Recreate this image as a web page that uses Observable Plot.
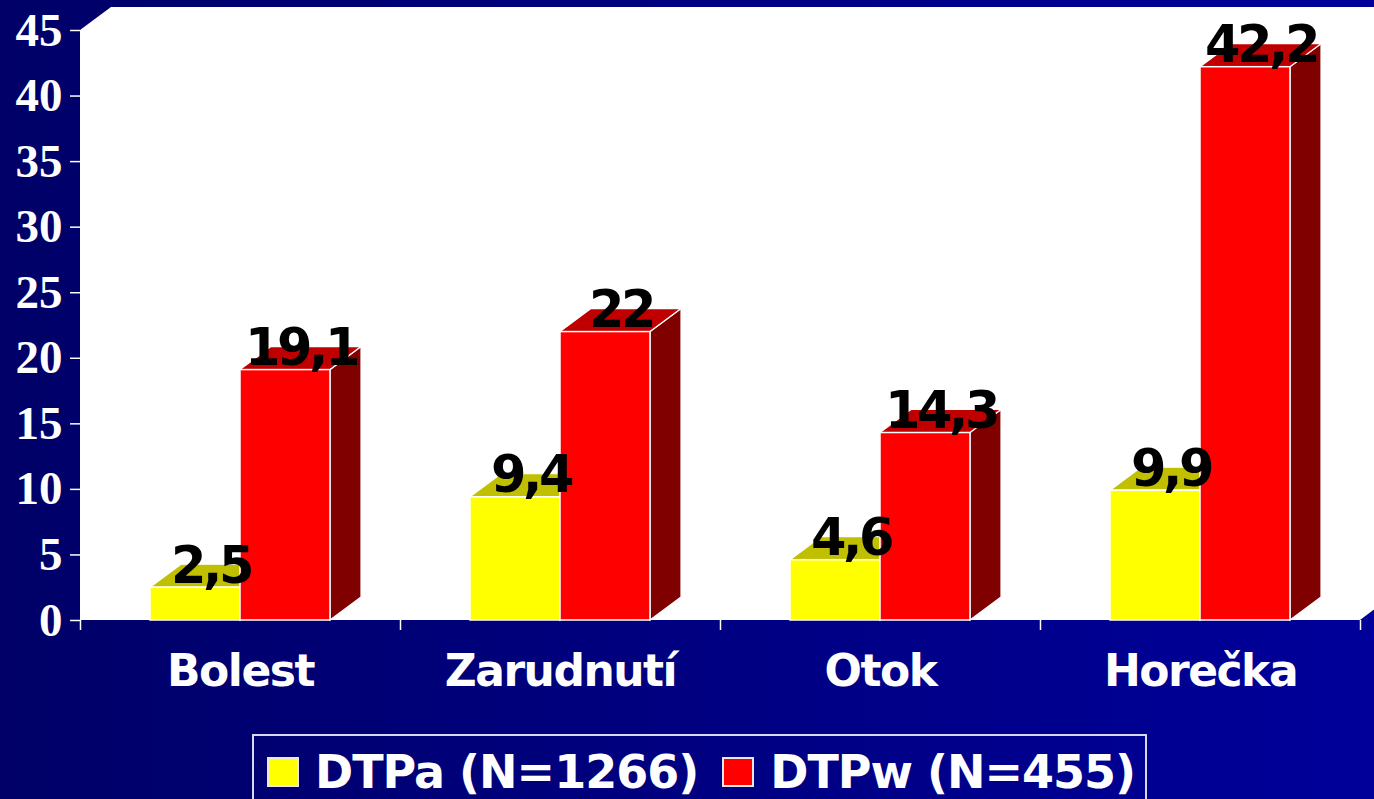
<!DOCTYPE html>
<html>
<head>
<meta charset="utf-8">
<script src="https://cdn.jsdelivr.net/npm/d3@7"></script>
<script src="https://cdn.jsdelivr.net/npm/@observablehq/plot@0.6"></script>
<style>
html, body { margin: 0; padding: 0; }
body {
  width: 1374px; height: 799px; overflow: hidden; position: relative;
  background: linear-gradient(to right, #000068, #00009a);
  font-family: "DejaVu Sans", sans-serif;
}
#chart svg { display: block; }
#chart g[aria-label="x-axis tick label"] text { letter-spacing: -1.5px; }
#chart g[aria-label="text"] text { letter-spacing: -3.5px; }
#legend {
  position: absolute; left: 252px; top: 734px; width: 891px; height: 80px;
  border: 2px solid #d8d8ec; box-sizing: content-box;
  display: flex; align-items: flex-start; white-space: nowrap;
}
#legend .item { display: flex; align-items: center; margin-top: 21px; white-space: nowrap; flex: none; }
#legend .sw { width: 28px; height: 26px; border: 2px solid #e8e8e8; flex: none; }
#legend .lt {
  color: white; font-weight: bold; font-size: 46px; letter-spacing: -1px;
  line-height: 30px; margin-left: 16px; margin-right: 24px; white-space: nowrap;
}
</style>
</head>
<body>
<div id="chart"></div>
<div id="legend"></div>
<script>
// ---- data ----
const categories = ["Bolest", "Zarudnutí", "Otok", "Horečka"];
const seriesNames = ["DTPa (N=1266)", "DTPw (N=455)"];
const dtpa = [2.5, 9.4, 4.6, 9.9];
const dtpw = [19.1, 22, 14.3, 42.2];
const yTicks = [0, 5, 10, 15, 20, 25, 30, 35, 40, 45];

// ---- styles ----
const frontColors = ["#ffff00", "#ff0000"];
const topColors = ["#c0c000", "#c00000"];
const sideColors = ["#808000", "#800000"];
const W = 1374, H = 730, ML = 80, MR = 14, MT = 30, MB = 110;
const DX = 31, DY = -23;          // 3D depth offset
const GROUP = 0.5625;             // fraction of band used by the two bars
const bw = (W - ML - MR) / categories.length;
const barW = bw * GROUP / 2;
const outer = (bw - bw * GROUP) / 2;

const rows = categories.map((c, i) => ({cat: c, a: dtpa[i], w: dtpw[i]}));
const fmt = v => String(v).replace(".", ",");

// back wall (white) with perspective depth
const wall = (index, scales, values, dims) => {
  const x0 = dims.marginLeft, x1 = dims.width - dims.marginRight;
  const y0 = dims.height - dims.marginBottom, y1 = dims.marginTop;
  const pts = [[x0, y0], [x0, y1], [x0 + DX, y1 + DY], [x1 + DX, y1 + DY], [x1 + DX, y0 + DY], [x1, y0]];
  const g = d3.create("svg:g");
  g.append("polygon").attr("points", pts.join(" ")).attr("fill", "white");
  return g.node();
};

// top and side faces of the 3D bars, drawn through the scales
const faces = (vals, s) => (index, scales) => {
  const g = d3.create("svg:g");
  const x = scales.x, y = scales.y;
  const b = x.bandwidth ? x.bandwidth() : bw;
  const bww = b * GROUP / 2, out = (b - b * GROUP) / 2;
  vals.forEach((v, i) => {
    const xa = x(categories[i]) + out + s * bww, xb = xa + bww;
    const yt = y(v), yb = y(0);
    g.append("polygon")
      .attr("points", [[xb, yt], [xb + DX, yt + DY], [xb + DX, yb + DY], [xb, yb]].join(" "))
      .attr("fill", sideColors[s]).attr("stroke", "white").attr("stroke-width", 1.2);
    g.append("polygon")
      .attr("points", [[xa, yt], [xa + DX, yt + DY], [xb + DX, yt + DY], [xb, yt]].join(" "))
      .attr("fill", topColors[s]).attr("stroke", "white").attr("stroke-width", 1.2);
  });
  return g.node();
};

const labelStyle = {fontSize: 51, fontWeight: "bold", fontFamily: "DejaVu Sans", fill: "black", lineAnchor: "bottom", textAnchor: "middle", dy: -5};

const plot = Plot.plot({
  width: W, height: H,
  marginLeft: ML, marginRight: MR, marginTop: MT, marginBottom: MB,
  style: {background: "transparent", color: "white", overflow: "visible"},
  x: {type: "band", domain: categories, padding: 0, label: null},
  y: {domain: [0, 45], label: null},
  marks: [
    wall,
    faces(dtpa, 0),
    Plot.barY(rows, {x: "cat", y: "a", fill: frontColors[0], stroke: "white", strokeWidth: 1.5,
      insetLeft: outer, insetRight: bw - outer - barW}),
    faces(dtpw, 1),
    Plot.barY(rows, {x: "cat", y: "w", fill: frontColors[1], stroke: "white", strokeWidth: 1.5,
      insetLeft: outer + barW, insetRight: outer}),
    Plot.text(rows, {x: "cat", y: "a", text: d => fmt(d.a), dx: -bw / 2 + outer + barW / 2 + DX / 2, ...labelStyle}),
    Plot.text(rows, {x: "cat", y: "w", text: d => fmt(d.w), dx: -bw / 2 + outer + barW * 1.5 + DX / 2, ...labelStyle}),
    Plot.axisY({ticks: yTicks, tickSize: 10, tickPadding: 8, fontSize: 47, fontWeight: "bold",
      fontFamily: "Liberation Serif", fill: "white", stroke: "white", strokeWidth: 1.5, label: null}),
    Plot.axisX({tickSize: 0, tickPadding: 34, fontSize: 44, fontWeight: "bold",
      fontFamily: "DejaVu Sans", fill: "white", label: null}),
    Plot.axisX(categories, {dx: -bw / 2, tickSize: 10, tickFormat: () => "", stroke: "white", strokeWidth: 1.5, label: null}),
    Plot.axisX(categories.slice(-1), {dx: bw / 2, tickSize: 10, tickFormat: () => "", stroke: "white", strokeWidth: 1.5, label: null})
  ]
});
document.getElementById("chart").append(plot);

// legend
const legend = d3.select("#legend");
seriesNames.forEach((name, i) => {
  const item = legend.append("div").attr("class", "item").style("margin-left", i === 0 ? "13px" : "0px");
  item.append("span").attr("class", "sw").style("background", frontColors[i]);
  item.append("span").attr("class", "lt").text(name);
});
</script>
</body>
</html>
